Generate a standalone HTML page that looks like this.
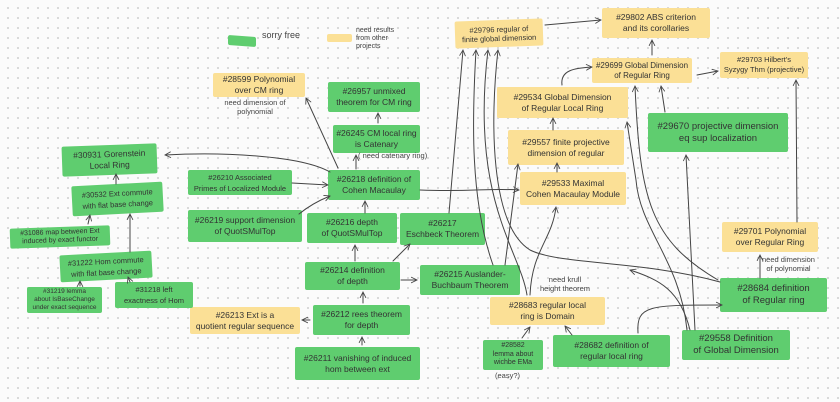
<!DOCTYPE html>
<html><head><meta charset="utf-8"><style>
html,body{margin:0;padding:0}
body{width:840px;height:402px;position:relative;overflow:hidden;background-color:#fbfbfb;
background-image:radial-gradient(circle,#cfcfcf 0.8px,transparent 1.1px);background-size:10px 10px;background-position:3px 3px;
font-family:"Liberation Sans",sans-serif;color:#333}
.b{position:absolute;display:flex;align-items:center;justify-content:center;text-align:center;font-size:8.5px;line-height:11px;box-sizing:border-box;padding:1px 3px;border-radius:2px;white-space:nowrap}
.g{background:#5fcd6f}
.y{background:#fbe096}
.t{position:absolute;font-size:7.5px;line-height:9px;color:#444;text-align:center;white-space:nowrap}
svg{position:absolute;left:0;top:0}
</style></head><body>
<div class="b g" style="left:228px;top:36px;width:28px;height:10px;transform:skewY(4deg)"></div>
<div class="t" style="left:262px;top:31px;font-size:9px">sorry free</div>
<div class="b y" style="left:327px;top:34px;width:25px;height:8px"></div>
<div class="t" style="left:356px;top:27px;text-align:left;font-size:7px;line-height:8px">need results<br>from other<br>projects</div>

<div class="b y" style="left:213px;top:73px;width:92px;height:24px">#28599 Polynomial<br>over CM ring</div>
<div class="t" style="left:220px;top:98px;width:70px">need dimension of<br>polynomial</div>
<div class="b y" style="left:455px;top:20px;width:88px;height:27px;font-size:7.5px;line-height:9px;transform:rotate(-2deg)">#29796 regular of<br>finite global dimension</div>
<div class="b y" style="left:602px;top:8px;width:108px;height:30px">#29802 ABS criterion<br>and its corollaries</div>
<div class="b y" style="left:592px;top:58px;width:100px;height:25px;font-size:8px;line-height:10px">#29699 Global Dimension<br>of Regular Ring</div>
<div class="b y" style="left:720px;top:52px;width:88px;height:26px;font-size:7.5px;line-height:10px">#29703 Hilbert's<br>Syzygy Thm (projective)</div>
<div class="b y" style="left:497px;top:87px;width:131px;height:31px">#29534 Global Dimension<br>of Regular Local Ring</div>
<div class="b y" style="left:508px;top:130px;width:116px;height:35px">#29557 finite projective<br>dimension of regular</div>
<div class="b y" style="left:520px;top:172px;width:106px;height:33px">#29533 Maximal<br>Cohen Macaulay Module</div>
<div class="b y" style="left:190px;top:307px;width:110px;height:27px">#26213 Ext is a<br>quotient regular sequence</div>
<div class="b y" style="left:490px;top:297px;width:115px;height:28px">#28683 regular local<br>ring is Domain</div>
<div class="t" style="left:540px;top:275px">need krull<br>height theorem</div>
<div class="b y" style="left:722px;top:222px;width:96px;height:30px">#29701 Polynomial<br>over Regular Ring</div>
<div class="t" style="left:762px;top:255px">need dimension<br>of polynomial</div>

<div class="b g" style="left:328px;top:82px;width:92px;height:30px">#26957 unmixed<br>theorem for CM ring</div>
<div class="b g" style="left:333px;top:125px;width:87px;height:28px">#26245 CM local ring<br>is Catenary</div>
<div class="t" style="left:358px;top:151px">( need catenary ring)</div>
<div class="b g" style="left:328px;top:170px;width:92px;height:30px">#26218 definition of<br>Cohen Macaulay</div>
<div class="b g" style="left:62px;top:145px;width:95px;height:30px;transform:rotate(-2deg)">#30931 Gorenstein<br>Local Ring</div>
<div class="b g" style="left:188px;top:170px;width:104px;height:25px;font-size:7.5px">#26210 Associated<br>Primes of Localized Module</div>
<div class="b g" style="left:72px;top:184px;width:91px;height:30px;font-size:7.5px;transform:rotate(-3deg)">#30532 Ext commute<br>with flat base change</div>
<div class="b g" style="left:10px;top:227px;width:100px;height:20px;font-size:7px;line-height:8px;transform:rotate(-2deg)">#31086 map between Ext<br>induced by exact functor</div>
<div class="b g" style="left:188px;top:210px;width:114px;height:32px">#26219 support dimension<br>of QuotSMulTop</div>
<div class="b g" style="left:307px;top:213px;width:90px;height:30px">#26216 depth<br>of QuotSMulTop</div>
<div class="b g" style="left:400px;top:213px;width:85px;height:32px">#26217<br>Eschbeck Theorem</div>
<div class="b g" style="left:60px;top:253px;width:92px;height:27px;font-size:7.5px;transform:rotate(-3deg)">#31222 Hom commute<br>with flat base change</div>
<div class="b g" style="left:27px;top:287px;width:75px;height:26px;font-size:6.5px;line-height:8px">#31219 lemma<br>about IsBaseChange<br>under exact sequence</div>
<div class="b g" style="left:115px;top:282px;width:78px;height:26px;font-size:7.5px">#31218 left<br>exactness of Hom</div>
<div class="b g" style="left:305px;top:262px;width:95px;height:28px">#26214 definition<br>of depth</div>
<div class="b g" style="left:420px;top:265px;width:100px;height:30px">#26215 Auslander-<br>Buchbaum Theorem</div>
<div class="b g" style="left:313px;top:305px;width:97px;height:30px">#26212 rees theorem<br>for depth</div>
<div class="b g" style="left:295px;top:347px;width:125px;height:33px">#26211 vanishing of induced<br>hom between ext</div>
<div class="b g" style="left:648px;top:113px;width:140px;height:39px;font-size:9.5px;line-height:12px">#29670 projective dimension<br>eq sup localization</div>
<div class="b g" style="left:720px;top:278px;width:107px;height:34px;font-size:9.5px;line-height:12px">#28684 definition<br>of Regular ring</div>
<div class="b g" style="left:483px;top:340px;width:60px;height:30px;font-size:7px;line-height:8.5px">#28582<br>lemma about<br>wichbe EMa</div>
<div class="t" style="left:495px;top:371px">(easy?)</div>
<div class="b g" style="left:553px;top:335px;width:117px;height:32px">#28682 definition of<br>regular local ring</div>
<div class="b g" style="left:682px;top:330px;width:108px;height:30px;font-size:9.5px;line-height:12px">#29558 Definition<br>of Global Dimension</div>

<svg width="840" height="402" viewBox="0 0 840 402" fill="none" stroke="#444" stroke-width="1" stroke-linecap="round">
<defs><marker id="a" viewBox="0 0 10 10" refX="9" refY="5" markerWidth="7" markerHeight="7" orient="auto-start-reverse"><path d="M1,1 L9,5 L1,9" fill="none" stroke="#444" stroke-width="1.2"/></marker></defs>
<g marker-end="url(#a)">
<path d="M330,172 C300,155 220,152 165,155"/>
<path d="M338,168 L306,98"/>
<path d="M356,169 L356,155"/>
<path d="M378,123 L378,113"/>
<path d="M292,183 L328,185"/>
<path d="M299,214 C310,205 320,200 330,196"/>
<path d="M365,213 L365,201"/>
<path d="M420,190 C470,192 490,188 519,190"/>
<path d="M355,261 L355,245"/>
<path d="M393,261 L410,244"/>
<path d="M401,280 L417,280"/>
<path d="M363,303 L363,292"/>
<path d="M310,320 L302,320"/>
<path d="M362,345 L362,337"/>
<path d="M116,184 L116,174"/>
<path d="M88,224 L90,215"/>
<path d="M130,252 L130,214"/>
<path d="M80,286 L80,281"/>
<path d="M130,282 L128,277"/>
<path d="M545,25 L601,20"/>
<path d="M652,55 L652,40"/>
<path d="M697,75 L718,71"/>
<path d="M562,85 C560,70 575,68 592,67"/>
<path d="M553,130 L553,118"/>
<path d="M557,172 L557,163"/>
<path d="M665,112 L661,86"/>
<path d="M530,295 C532,250 552,240 556,207"/>
<path d="M522,338 L530,327"/>
<path d="M572,335 L565,326"/>
<path d="M638,333 C636,305 650,305 722,305"/>
<path d="M760,278 L760,255"/>
<path d="M797,222 L796,80"/>
<path d="M449,213 L463,50"/>
<path d="M493,265 C470,200 472,120 476,50"/>
<path d="M505,265 L518,164"/>
<path d="M527,295 C520,250 470,200 488,50"/>
<path d="M720,282 C640,260 560,265 530,250 C490,225 490,120 498,50"/>
<path d="M687,330 C680,260 640,230 636,180 L627,122"/>
<path d="M718,280 C650,240 640,200 635,86"/>
<path d="M695,330 L686,155"/>
<path d="M690,330 C680,290 660,280 630,270"/>
</g>
</svg>
</body></html>
